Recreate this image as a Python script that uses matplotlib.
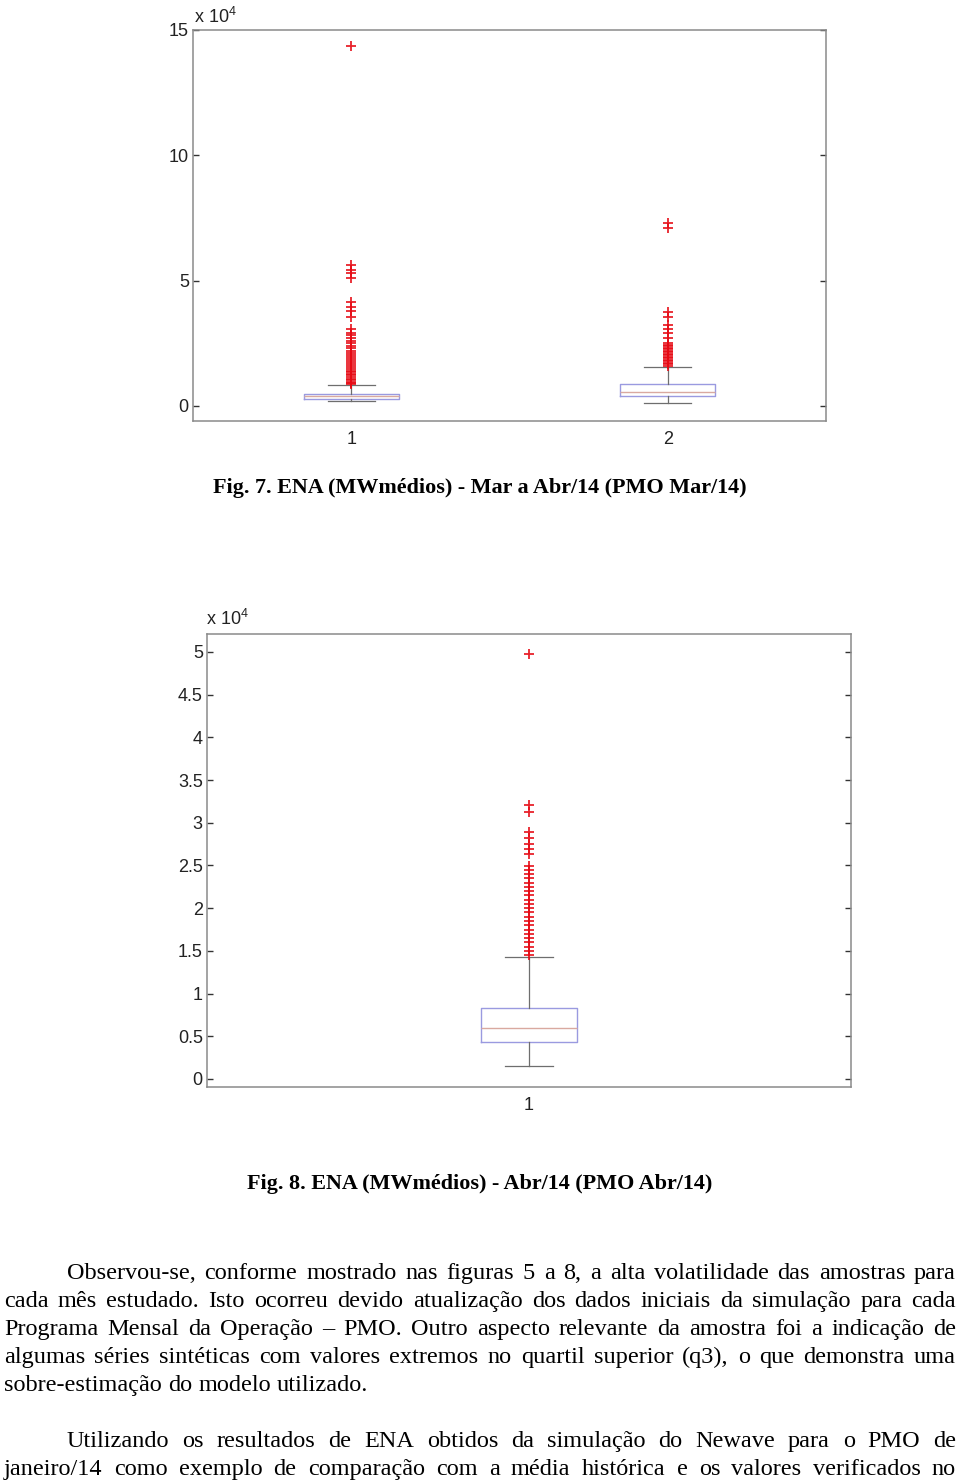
"""Boxplots de ENA (Fig. 7 e Fig. 8) com o texto da página, recriados em matplotlib."""
import matplotlib
matplotlib.use("Agg")
import matplotlib.pyplot as plt
from matplotlib.ticker import FuncFormatter

W, H = 960, 1482

# Fig. 7: dois meses (Mar e Abr/14), valores em MWmédios
fig7_pos = [1, 2]
fig7_q1 = [2700, 4000]
fig7_med = [3800, 5700]
fig7_q3 = [4800, 8800]
fig7_lo = [2000, 1200]
fig7_hi = [8400, 15600]
fig7_fliers = [
    [8600, 9100, 9700, 10300, 10900, 11500, 12200, 12800, 13400, 14100,
     14800, 15500, 16200, 17000, 17800, 18600, 19500, 20300, 21200, 22100,
     23000, 24000, 25000, 26100, 27200, 28300, 29200, 30700,
     35500, 37900, 39500, 41500, 51000, 53000, 54200, 56200, 143600],
    [16000, 16600, 17200, 17800, 18400, 19000, 19600, 20200, 20800, 21400,
     22000, 22600, 23200, 23800, 24400, 25100, 27100, 29100, 30700, 32300,
     35500, 37600, 71000, 73100],
]

# Fig. 8: um mês (Abr/14)
fig8_pos = [1]
fig8_q1 = [4300]
fig8_med = [6000]
fig8_q3 = [8300]
fig8_lo = [1500]
fig8_hi = [14300]
fig8_fliers = [
    [14500, 15000, 15500, 16000, 16500, 17000, 17500, 18000, 18500, 19000,
     19500, 20000, 20500, 21000, 21500, 22000, 22500, 23000, 23500, 24000,
     24500, 24900, 26300, 26900, 27500, 28200, 28900, 31300, 32100, 49700],
]

cap7 = "Fig. 7. ENA (MWmédios) - Mar a Abr/14 (PMO Mar/14)"
cap8 = "Fig. 8. ENA (MWmédios) - Abr/14 (PMO Abr/14)"

par1 = [
    "Observou-se, conforme mostrado nas figuras 5 a 8, a alta volatilidade das amostras para",
    "cada mês estudado. Isto ocorreu devido atualização dos dados iniciais da simulação para cada",
    "Programa Mensal da Operação – PMO. Outro aspecto relevante da amostra foi a indicação de",
    "algumas séries sintéticas com valores extremos no quartil superior (q3), o que demonstra uma",
    "sobre-estimação do modelo utilizado.",
]
par2 = [
    "Utilizando os resultados de ENA obtidos da simulação do Newave para o PMO de",
    "janeiro/14 como exemplo de comparação com a média histórica e os valores verificados no",
]

BOX_C = "#9a9ae0"
MED_C = "#d9a9a0"
WHISK_C = "#6e6e6e"
SPINE_C = "#8a8a8a"
SANS = "Liberation Sans"
TICK_FS = 13

plt.rcParams["mathtext.fontset"] = "custom"
plt.rcParams["mathtext.rm"] = SANS

fig = plt.figure(figsize=(W / 100, H / 100), dpi=100)


def px_axes(left, top, right, bottom):
    return fig.add_axes([left / W, 1 - bottom / H, (right - left) / W, (bottom - top) / H])


def boxplot(ax, pos, q1, med, q3, lo, hi, fliers, width, capw):
    stats = []
    for i in range(len(pos)):
        stats.append(dict(q1=q1[i], med=med[i], q3=q3[i], whislo=lo[i],
                          whishi=hi[i], fliers=fliers[i]))
    ax.bxp(stats, positions=pos, widths=width, capwidths=capw,
           boxprops=dict(color=BOX_C, lw=1.0),
           medianprops=dict(color=MED_C, lw=1.0),
           whiskerprops=dict(color=WHISK_C, lw=0.9),
           capprops=dict(color=WHISK_C, lw=0.9),
           flierprops=dict(marker="+", markeredgecolor="#e60a14",
                           markersize=7, markeredgewidth=1.3, alpha=0.9))


def style(ax, ylim, yticks, xlim):
    ax.set_xlim(*xlim)
    ax.set_ylim(*ylim)
    ax.set_yticks(yticks)
    ax.yaxis.set_major_formatter(FuncFormatter(lambda v, p: f"{v / 1e4:g}"))
    ax.tick_params(axis="y", direction="in", length=4, width=1, color="#333333",
                   right=True, labelsize=TICK_FS, labelcolor="#222222", pad=3)
    ax.tick_params(axis="x", length=0, labelsize=TICK_FS, labelcolor="#222222", pad=7)
    for lab in ax.get_xticklabels() + ax.get_yticklabels():
        lab.set_family(SANS)
    for s in ax.spines.values():
        s.set_color(SPINE_C)
        s.set_linewidth(1.1)


ax7 = px_axes(193, 30, 826, 421)
boxplot(ax7, fig7_pos, fig7_q1, fig7_med, fig7_q3, fig7_lo, fig7_hi, fig7_fliers, 0.30, 0.15)
ax7.set_xticks(fig7_pos)
ax7.set_xticklabels([str(p) for p in fig7_pos])
style(ax7, (-6000, 150000), [0, 50000, 100000, 150000], (0.5, 2.5))
fig.text(194 / W, 1 - 17 / H, r"x 10$^{\mathrm{4}}$", fontsize=TICK_FS, family=SANS,
         va="center", color="#222222")

ax8 = px_axes(207, 634, 851, 1087)
boxplot(ax8, fig8_pos, fig8_q1, fig8_med, fig8_q3, fig8_lo, fig8_hi, fig8_fliers, 0.149, 0.076)
ax8.set_xticks(fig8_pos)
ax8.set_xticklabels([str(p) for p in fig8_pos])
style(ax8, (-940, 52100), [0, 5000, 10000, 15000, 20000, 25000, 30000, 35000, 40000, 45000, 50000],
      (0.5, 1.5))
fig.text(206 / W, 1 - 619 / H, r"x 10$^{\mathrm{4}}$", fontsize=TICK_FS, family=SANS,
         va="center", color="#222222")

SERIF = "Liberation Serif"
renderer = fig.canvas.get_renderer()


def width_of(s, size, weight="normal"):
    t = fig.text(0, 0, s, fontsize=size, family=SERIF, weight=weight)
    w = t.get_window_extent(renderer).width
    t.remove()
    return w


# legendas: tamanho ajustado à largura vista na página
cap_size = 10 * 536 / width_of(cap7, 10, "bold")
fig.text(480 / W, 1 - 488 / H, cap7, fontsize=cap_size, family=SERIF, weight="bold",
         ha="center", va="center")
fig.text(480 / W, 1 - 1184 / H, cap8, fontsize=cap_size, family=SERIF, weight="bold",
         ha="center", va="center")

txt_size = 10 * 364 / width_of(par1[-1], 10)


def put_line(line, y, x0, x1, justify):
    words = line.split(" ")
    ws = [width_of(w, txt_size) for w in words]
    if justify and len(words) > 1:
        gap = (x1 - x0 - sum(ws)) / (len(words) - 1)
    else:
        gap = width_of("a b", txt_size) - width_of("ab", txt_size)
    x = x0
    for w, wd in zip(words, ws):
        fig.text(x / W, 1 - (y + 7) / H, w, fontsize=txt_size, family=SERIF,
                 va="baseline", ha="left")
        x += wd + gap


for i, line in enumerate(par1):
    x0 = 67 if i == 0 else 4
    put_line(line, 1272 + 28 * i, x0, 956, i < len(par1) - 1)
for i, line in enumerate(par2):
    x0 = 67 if i == 0 else 4
    put_line(line, 1440 + 28 * i, x0, 956, True)

fig.savefig("out.png", dpi=100)
